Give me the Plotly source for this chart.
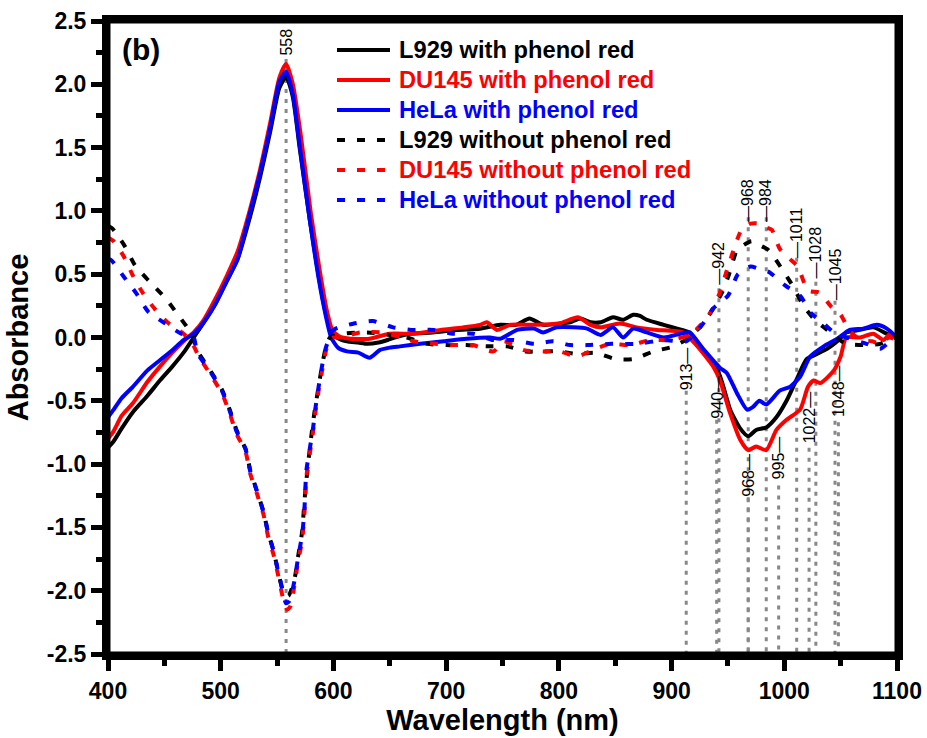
import plotly.graph_objects as go

# ---------------- data ----------------
# Solid: with phenol red
l929_with_x = [400, 405, 412, 422, 435, 446, 457, 467, 476, 485, 495, 505, 515, 525, 535, 544, 552, 558, 564, 570, 579, 587, 593, 598, 603, 612, 622, 630, 640, 648, 658, 668, 688, 709, 730, 748, 762, 774, 786, 801, 810, 819, 828, 837, 848, 857, 866, 872, 878, 893, 905, 916, 922, 931, 940, 945, 952, 961, 968, 975, 984, 993, 1002, 1011, 1020, 1029, 1038, 1047, 1055, 1067, 1079, 1091, 1100]
l929_with_y = [-0.87, -0.82, -0.72, -0.59, -0.46, -0.34, -0.23, -0.12, 0.0, 0.12, 0.26, 0.44, 0.62, 0.92, 1.27, 1.63, 1.97, 2.06, 1.90, 1.50, 0.93, 0.48, 0.20, 0.05, 0.0, -0.03, -0.04, -0.05, -0.04, -0.02, 0.01, 0.03, 0.04, 0.06, 0.07, 0.10, 0.10, 0.15, 0.10, 0.11, 0.12, 0.15, 0.12, 0.12, 0.16, 0.14, 0.18, 0.17, 0.14, 0.10, 0.07, 0.04, -0.03, -0.15, -0.24, -0.36, -0.57, -0.72, -0.78, -0.73, -0.71, -0.63, -0.50, -0.33, -0.17, -0.13, -0.09, -0.03, 0.04, 0.06, 0.08, 0.03, 0.0]

du145_with_x = [400, 405, 412, 422, 435, 446, 457, 467, 476, 485, 495, 505, 515, 525, 535, 544, 552, 558, 564, 571, 580, 588, 594, 599, 605, 615, 632, 650, 671, 695, 715, 730, 736, 745, 757, 778, 800, 817, 828, 837, 854, 869, 887, 910, 922, 937, 943, 952, 961, 968, 975, 984, 993, 1002, 1014, 1021, 1026, 1032, 1044, 1050, 1055, 1067, 1079, 1088, 1094, 1100]
du145_with_y = [-0.80, -0.74, -0.62, -0.52, -0.35, -0.23, -0.12, -0.03, 0.04, 0.14, 0.30, 0.48, 0.68, 0.98, 1.33, 1.70, 2.05, 2.16, 2.00, 1.60, 0.98, 0.52, 0.22, 0.06, 0.01, -0.01, -0.01, 0.03, 0.03, 0.06, 0.08, 0.10, 0.12, 0.06, 0.10, 0.10, 0.11, 0.16, 0.10, 0.08, 0.11, 0.08, 0.06, 0.04, -0.06, -0.23, -0.34, -0.60, -0.81, -0.89, -0.86, -0.89, -0.73, -0.65, -0.57, -0.39, -0.34, -0.36, -0.26, -0.15, 0.0, 0.0, 0.03, -0.02, 0.03, 0.0]

hela_with_x = [400, 405, 412, 422, 435, 446, 457, 467, 476, 485, 495, 505, 515, 525, 535, 544, 552, 558, 564, 570, 579, 587, 593, 598, 604, 612, 622, 632, 641, 650, 659, 677, 698, 718, 739, 748, 763, 778, 786, 798, 813, 825, 837, 848, 857, 866, 878, 893, 908, 916, 928, 943, 949, 958, 967, 972, 978, 984, 996, 1005, 1014, 1023, 1035, 1047, 1058, 1070, 1082, 1091, 1100]
hela_with_y = [-0.63, -0.57, -0.48, -0.39, -0.26, -0.18, -0.10, -0.02, 0.03, 0.12, 0.26, 0.44, 0.62, 0.95, 1.30, 1.66, 2.02, 2.10, 1.92, 1.52, 0.93, 0.46, 0.18, 0.0, -0.08, -0.11, -0.12, -0.16, -0.10, -0.08, -0.07, -0.05, -0.03, -0.01, 0.0, -0.01, 0.06, 0.07, 0.04, 0.08, 0.08, 0.07, 0.02, 0.08, 0.0, 0.07, 0.04, 0.0, 0.03, 0.04, -0.09, -0.24, -0.28, -0.44, -0.57, -0.55, -0.50, -0.53, -0.42, -0.39, -0.31, -0.15, -0.07, -0.01, 0.06, 0.07, 0.10, 0.07, 0.0]

# Dashed: without phenol red
l929_without_x = [400, 404, 415, 424, 437, 451, 462, 474, 479, 490, 501, 508, 514, 522, 526, 532, 538, 542, 547, 551, 556, 560, 565, 569, 572, 575, 579, 583, 587, 590, 593, 597, 609, 630, 650, 665, 683, 700, 718, 736, 754, 771, 786, 801, 816, 832, 850, 866, 884, 902, 914, 925, 935, 945, 951, 958, 964, 971, 978, 986, 992, 998, 1008, 1017, 1027, 1038, 1046, 1055, 1073, 1085, 1094, 1100]
l929_without_y = [0.88, 0.86, 0.72, 0.57, 0.44, 0.31, 0.18, 0.03, -0.10, -0.25, -0.41, -0.57, -0.73, -0.88, -1.04, -1.21, -1.38, -1.54, -1.69, -1.85, -2.02, -2.04, -1.93, -1.71, -1.55, -1.22, -0.88, -0.60, -0.38, -0.22, -0.09, 0.0, 0.03, 0.04, 0.02, 0.0, -0.05, -0.06, -0.06, -0.07, -0.07, -0.11, -0.11, -0.11, -0.13, -0.12, -0.17, -0.17, -0.11, -0.07, -0.01, 0.08, 0.20, 0.36, 0.50, 0.69, 0.73, 0.76, 0.73, 0.69, 0.62, 0.54, 0.40, 0.25, 0.14, 0.06, 0.0, -0.05, -0.06, -0.05, -0.01, 0.0]

du145_without_x = [400, 405, 414, 422, 431, 442, 454, 467, 475, 480, 490, 501, 508, 514, 522, 526, 532, 538, 542, 547, 551, 555, 559, 562, 565, 569, 572, 574, 576, 579, 582, 584, 587, 590, 593, 596, 600, 606, 624, 644, 660, 671, 690, 706, 724, 742, 751, 769, 786, 801, 816, 830, 845, 863, 881, 899, 916, 927, 936, 943, 949, 955, 962, 970, 978, 984, 989, 996, 1005, 1012, 1021, 1029, 1032, 1042, 1050, 1058, 1068, 1078, 1085, 1093, 1100]
du145_without_y = [0.79, 0.76, 0.64, 0.49, 0.35, 0.22, 0.11, 0.03, -0.05, -0.14, -0.28, -0.44, -0.60, -0.76, -0.90, -1.07, -1.23, -1.40, -1.57, -1.72, -1.88, -2.05, -2.15, -2.12, -1.98, -1.75, -1.62, -1.43, -1.10, -0.92, -0.74, -0.59, -0.41, -0.26, -0.12, -0.03, 0.0, 0.0, 0.04, 0.04, 0.0, -0.03, -0.05, -0.06, -0.06, -0.11, -0.03, -0.10, -0.11, -0.11, -0.15, -0.10, -0.05, -0.06, -0.02, -0.02, 0.02, 0.11, 0.22, 0.36, 0.53, 0.69, 0.85, 0.90, 0.90, 0.87, 0.85, 0.70, 0.62, 0.56, 0.37, 0.36, 0.35, 0.24, 0.18, 0.05, -0.02, -0.03, -0.05, 0.0, -0.02]

hela_without_x = [400, 403, 414, 425, 436, 451, 465, 476, 479, 490, 501, 508, 514, 522, 526, 532, 538, 542, 547, 551, 555, 558, 561, 565, 569, 572, 574, 576, 579, 582, 584, 587, 590, 593, 600, 618, 635, 653, 669, 689, 706, 724, 742, 760, 778, 795, 810, 825, 847, 869, 893, 913, 928, 937, 950, 959, 970, 978, 986, 1001, 1014, 1024, 1035, 1044, 1055, 1073, 1085, 1094, 1100]
hela_without_y = [0.62, 0.61, 0.48, 0.35, 0.20, 0.11, 0.03, 0.0, -0.12, -0.26, -0.42, -0.58, -0.74, -0.88, -1.05, -1.21, -1.38, -1.54, -1.69, -1.85, -2.00, -2.10, -2.08, -1.94, -1.72, -1.57, -1.40, -1.05, -0.88, -0.71, -0.56, -0.38, -0.22, -0.09, 0.06, 0.11, 0.13, 0.08, 0.06, 0.06, 0.03, 0.03, -0.02, -0.02, -0.05, -0.03, -0.06, -0.06, -0.05, -0.05, -0.02, -0.03, 0.11, 0.23, 0.33, 0.50, 0.56, 0.54, 0.52, 0.41, 0.33, 0.19, 0.11, 0.04, 0.0, -0.05, -0.09, -0.03, 0.0]

series_names = ["L929 with phenol red", "DU145 with phenol red", "HeLa with phenol red",
                "L929 without phenol red", "DU145 without phenol red", "HeLa without phenol red"]
series_x = [l929_with_x, du145_with_x, hela_with_x, l929_without_x, du145_without_x, hela_without_x]
series_y = [l929_with_y, du145_with_y, hela_with_y, l929_without_y, du145_without_y, hela_without_y]
series_colors = ["#000000", "#ff0000", "#0000ff", "#000000", "#ff0000", "#0000ff"]
series_dash = ["solid", "solid", "solid", "8px,12px", "8px,12px", "8px,12px"]

# Peak labels: wavelength, label text, label centre (absorbance), top of grey dotted line
peak_nm = [558, 942, 968, 984, 1011, 1028, 1045, 913, 940, 968, 995, 1022, 1048]
peak_text = ["558", "\u2014942", "\u2014968", "\u2014984", "\u20141011", "\u20141028", "\u20141045",
             "913\u2014", "940\u2014", "968\u2014", "995\u2014", "1022\u2014", "1048\u2014"]
peak_label_y = [2.33, 0.59, 1.08, 1.08, 0.83, 0.67, 0.50, -0.25, -0.47, -1.09, -0.95, -0.63, -0.42]
peak_line_top = [2.2, 0.39, 0.95, 0.95, 0.63, 0.44, 0.29, -0.42, -0.65, -1.27, -1.17, -0.87, -0.67]

x_ticks = [400, 500, 600, 700, 800, 900, 1000, 1100]
y_ticks = [-2.5, -2.0, -1.5, -1.0, -0.5, 0.0, 0.5, 1.0, 1.5, 2.0, 2.5]
y_tick_text = ["-2.5", "-2.0", "-1.5", "-1.0", "-0.5", "0.0", "0.5", "1.0", "1.5", "2.0", "2.5"]

FONT = "Liberation Sans, Arial, sans-serif"
W, H = 927, 738
ML, MR, MT, MB = 108, 30, 21, 84
PW, PH = W - ML - MR, H - MT - MB


def px_to_paper(px, py):
    return (px - ML) / PW, (H - MB - py) / PH


fig = go.Figure()

for nm, top in zip(peak_nm, peak_line_top):
    fig.add_shape(type="line", x0=nm, x1=nm, y0=top, y1=-2.5, xref="x", yref="y",
                  line=dict(color="#888888", width=3, dash="4px,6px"), layer="below")

for name, xs, ys, col, dash in zip(series_names, series_x, series_y, series_colors, series_dash):
    fig.add_trace(go.Scatter(
        x=xs, y=ys, mode="lines", line_shape="spline", name=name, showlegend=False,
        line=dict(color=col, width=4, dash=dash, smoothing=0.6),
    ))

# frame around the plotting area
fig.add_shape(type="rect", xref="paper", yref="paper", x0=0, x1=1, y0=0, y1=1,
              line=dict(color="black", width=5), fillcolor="rgba(0,0,0,0)", layer="above")

# legend drawn as sample lines + coloured bold text
for i, (name, col, dash) in enumerate(zip(series_names, series_colors, series_dash)):
    row_y = 50 + 30 * i
    x0, y0 = px_to_paper(337, row_y)
    x1, _ = px_to_paper(390, row_y)
    fig.add_shape(type="line", xref="paper", yref="paper", x0=x0, x1=x1, y0=y0, y1=y0,
                  line=dict(color=col, width=4, dash=dash))
    tx, ty = px_to_paper(397, row_y)
    fig.add_annotation(x=tx, y=ty, xref="paper", yref="paper", xanchor="left", yanchor="middle",
                       text=name, showarrow=False,
                       font=dict(family=FONT, size=23.7, color=col, weight="bold"))

for nm, txt, ly in zip(peak_nm, peak_text, peak_label_y):
    fig.add_annotation(x=nm, y=ly, xref="x", yref="y", text=txt, textangle=-90,
                       showarrow=False, xanchor="center", yanchor="middle",
                       font=dict(family=FONT, size=16, color="black"))

bx, by = px_to_paper(141, 49)
fig.add_annotation(x=bx, y=by, xref="paper", yref="paper", text="(b)", xanchor="center", yanchor="middle",
                   showarrow=False, font=dict(family=FONT, size=30, color="black", weight="bold"))

axis_common = dict(
    showline=True, linewidth=6, linecolor="black", mirror=True,
    ticks="outside", ticklen=11, tickwidth=4.5, tickcolor="black",
    showgrid=False, zeroline=False, automargin=False,
    tickfont=dict(family=FONT, size=23, color="black", weight="bold"),
)

fig.update_xaxes(range=[400, 1100], tickmode="array", tickvals=x_ticks,
                 minor=dict(dtick=50, ticks="outside", ticklen=6, tickwidth=4.5, tickcolor="black"),
                 title=dict(text="Wavelength (nm)", standoff=8,
                            font=dict(family=FONT, size=29, color="black", weight="bold")),
                 **axis_common)
fig.update_yaxes(range=[-2.5, 2.5], tickmode="array", tickvals=y_ticks, ticktext=y_tick_text,
                 minor=dict(dtick=0.25, ticks="outside", ticklen=6, tickwidth=4.5, tickcolor="black"),
                 title=dict(text="Absorbance", standoff=12,
                            font=dict(family=FONT, size=29, color="black", weight="bold")),
                 **axis_common)

fig.update_layout(
    width=W, height=H,
    margin=dict(l=ML, r=MR, t=MT, b=MB),
    plot_bgcolor="white", paper_bgcolor="white",
    showlegend=False,
)

fig.write_html("out.html")
